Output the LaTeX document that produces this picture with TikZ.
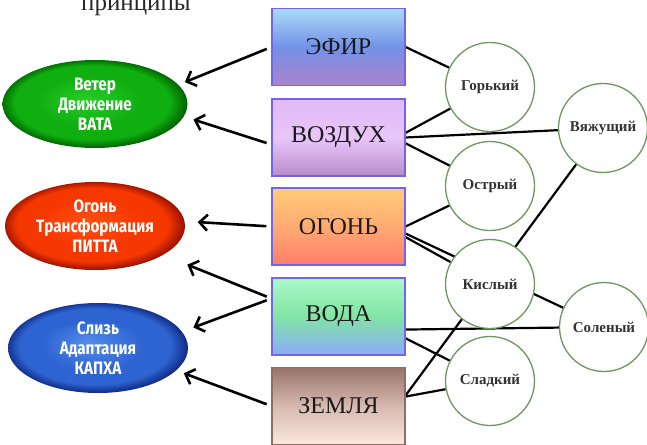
\documentclass[tikz,border=0pt]{standalone}
\usepackage{fontspec}
\setmainfont{Liberation Serif}
\newfontfamily\doshafont[FakeStretch=0.85]{Fira Sans}
\usepackage{tikz}
\usetikzlibrary{shapes.geometric, arrows.meta, backgrounds}
\usepackage{xcolor}
\definecolor{circlegreen}{RGB}{110,150,95}
\definecolor{tastetext}{RGB}{50,50,50}
\definecolor{boxtext}{RGB}{25,25,25}
\definecolor{titletext}{RGB}{40,40,40}
\definecolor{efirtop}{RGB}{170,220,250}
\definecolor{efirmid}{RGB}{115,145,230}
\definecolor{efirbot}{RGB}{170,130,205}
\definecolor{vozdtop}{RGB}{225,185,245}
\definecolor{vozdmid}{RGB}{232,198,250}
\definecolor{vozdbot}{RGB}{185,140,200}
\definecolor{ogontop}{RGB}{255,205,120}
\definecolor{ogonmid}{RGB}{255,170,115}
\definecolor{ogonbot}{RGB}{255,125,105}
\definecolor{vodatop}{RGB}{170,250,200}
\definecolor{vodamid}{RGB}{130,228,165}
\definecolor{vodabot}{RGB}{140,170,250}
\definecolor{zemltop}{RGB}{150,115,105}
\definecolor{zemlmid}{RGB}{215,185,175}
\definecolor{zemlbot}{RGB}{250,232,222}
\definecolor{boxline}{RGB}{115,100,232}
\definecolor{zemlline}{RGB}{140,110,100}
\definecolor{vatalight}{RGB}{40,205,40}
\definecolor{vatamid}{RGB}{15,175,15}
\definecolor{vatadark}{RGB}{0,95,0}
\definecolor{vatadeep}{RGB}{0,45,0}
\definecolor{pittalight}{RGB}{255,80,20}
\definecolor{pittamid}{RGB}{245,55,0}
\definecolor{pittadark}{RGB}{150,15,0}
\definecolor{pittadeep}{RGB}{80,0,0}
\definecolor{kaphalight}{RGB}{85,140,235}
\definecolor{kaphamid}{RGB}{45,100,210}
\definecolor{kaphadark}{RGB}{15,40,130}
\definecolor{kaphadeep}{RGB}{5,15,70}
\pgfdeclareradialshading{vatashade}{\pgfpoint{-3bp}{3bp}}{color(0bp)=(vatalight); color(14bp)=(vatamid); color(21bp)=(vatamid); color(25.5bp)=(vatadark); color(29bp)=(vatadeep)}
\pgfdeclareradialshading{pittashade}{\pgfpoint{-3bp}{3bp}}{color(0bp)=(pittalight); color(14bp)=(pittamid); color(21bp)=(pittamid); color(25.5bp)=(pittadark); color(29bp)=(pittadeep)}
\pgfdeclareradialshading{kaphashade}{\pgfpoint{-3bp}{3bp}}{color(0bp)=(kaphalight); color(14bp)=(kaphamid); color(21bp)=(kaphamid); color(25.5bp)=(kaphadark); color(29bp)=(kaphadeep)}

\begin{document}
\begin{tikzpicture}[x=1pt,y=-1pt]
	\tikzstyle{element} = [rectangle,draw=boxline,line width=1.2pt,minimum width=133pt,minimum height=77pt,font=\fontsize{24}{28}\selectfont,text=boxtext]
	\tikzstyle{taste} = [circle,fill=white,draw=circlegreen,line width=1.3pt,minimum size=89pt,inner sep=0pt,font=\bfseries\fontsize{15}{18}\selectfont,text=tastetext]
	\tikzstyle{dosha} = [ellipse,shade,inner sep=0pt,align=center,text=white,font=\doshafont\bfseries\fontsize{18}{20}\selectfont]
	\tikzstyle{edge} = [-,line width=2.2pt]
	\tikzstyle{arrow} = [-{Straight Barb[length=8pt,width=16pt]},line width=2.6pt,shorten <=5pt]
	\useasboundingbox (0,0) rectangle (647,444);
	\clip (0,0) rectangle (647,444);
	\node[font=\fontsize{25}{30}\selectfont,text=titletext,anchor=base] (title) at (136,11) {принципы};

	% elements
	\node[element,top color=efirtop,bottom color=efirbot,middle color=efirmid] (e1) at (338.5,47) {ЭФИР};
	\node[element,top color=vozdtop,bottom color=vozdbot,middle color=vozdmid] (e2) at (338.5,137.5) {ВОЗДУХ};
	\node[element,top color=ogontop,bottom color=ogonbot,middle color=ogonmid] (e3) at (338.5,226.5) {ОГОНЬ};
	\node[element,top color=vodatop,bottom color=vodabot,middle color=vodamid] (e4) at (338.5,316.5) {ВОДА};
	\node[element,draw=zemlline,top color=zemltop,bottom color=zemlbot,middle color=zemlmid] (e5) at (338.5,406) {ЗЕМЛЯ};

	% doshas
	\node[dosha,shading=vatashade,minimum width=185pt,minimum height=88pt] (d1) at (95,104) {Ветер\\Движение\\ВАТА};
	\node[dosha,shading=pittashade,minimum width=180pt,minimum height=88pt] (d2) at (95,226) {Огонь\\Трансформация\\ПИТТА};
	\node[dosha,shading=kaphashade,minimum width=180pt,minimum height=90pt] (d3) at (98,348) {Слизь\\Адаптация\\КАПХА};

	% tastes
	\node[taste] (t1) at (490,87) {Горький};
	\node[taste] (t2) at (603,128) {Вяжущий};
	\node[taste] (t3) at (490,186) {Острый};
	\node[taste] (t4) at (490,284) {Кислый};
	\node[taste] (t5) at (604,327) {Соленый};
	\node[taste] (t6) at (490,381) {Сладкий};

	\begin{scope}[on background layer]
		\draw[edge] (e1.east)--(t1);
		\draw[edge] (e2.4)--(t1);
		\draw[edge] (e2.east)--(t2);
		\draw[edge] (e2.-5)--(t3);
		\draw[edge] (e3.east)--(t3);
		\draw[edge] (e3.-6)--(t5);
		\draw[edge] (e3.-9)--(t4);
		\draw[edge] (e4.-11)--(t5);
		\draw[edge] (e4.-18)--(t6);
		\draw[edge] (e5.9)--(t2);
		\draw[edge] (e5.8)--(t6);
	\end{scope}

	\draw[arrow,shorten >=7pt] (e1.west)--(d1.13);
	\draw[arrow,shorten >=10pt] (e2.186)--(d1.-8);
	\draw[arrow,shorten >=13pt] (e3.west)--(d2.3);
	\draw[arrow,shorten >=26pt] (e4.165)--(d2.-23);
	\draw[arrow,shorten >=12pt] (e4.165)--(d3.11);
	\draw[arrow,shorten >=8pt] (e5.west)--(d3.-16);
\end{tikzpicture}
\end{document}
